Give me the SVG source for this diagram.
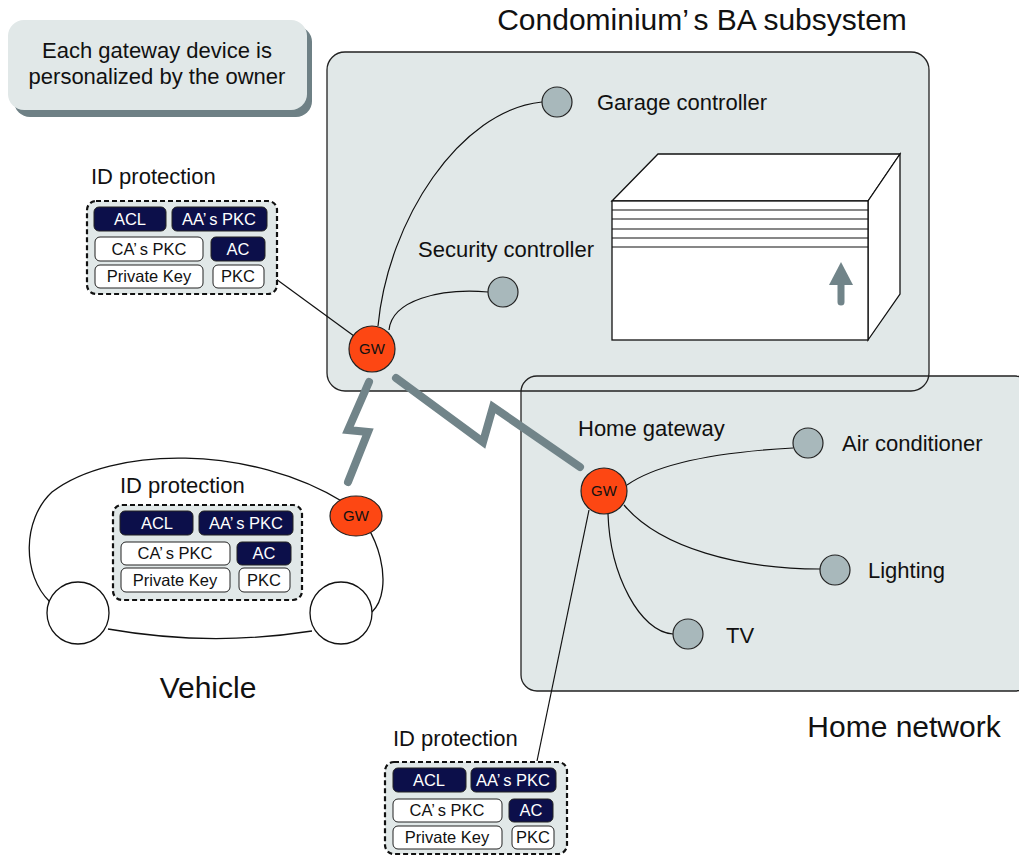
<svg xmlns="http://www.w3.org/2000/svg" width="1019" height="857" viewBox="0 0 1019 857">
  <defs>
    <style>
      text { font-family: "Liberation Sans", Arial, sans-serif; fill: #111; }
      .area { fill: #e1e8e8; stroke: none; }
      .areaLine { fill: none; stroke: #222; stroke-width: 1.3; }
      .big { font-size: 30px; }
      .lbl { font-size: 22px; }
      .gwt { font-size: 15px; text-anchor: middle; }
      .gw { fill: #fd4713; stroke: #222; stroke-width: 1.2; }
      .dev { fill: #a8b8bb; stroke: #222; stroke-width: 1.2; }
      .wire { fill: none; stroke: #111; stroke-width: 1.2; }
      .radio { fill: none; stroke: #718489; stroke-width: 8; stroke-linecap: round; stroke-linejoin: miter; }
      .idbox { fill: #e1e8e8; stroke: #111; stroke-width: 2.2; stroke-dasharray: 5 3; }
      .dark { fill: #0c0f4a; stroke: #222; stroke-width: 1; }
      .light { fill: #fff; stroke: #222; stroke-width: 1; }
      .ct { font-size: 16.5px; text-anchor: middle; }
      .ctw { font-size: 16.5px; text-anchor: middle; fill: #fff; }
      .body { fill: #fff; stroke: #111; stroke-width: 1.3; }
    </style>
  </defs>

  <!-- note box with drop shadow -->
  <g id="note">
    <rect x="14" y="26" width="298" height="91" rx="16" fill="#6e8085"/>
    <rect x="8" y="20" width="299" height="90" rx="16" fill="#e1e8e8"/>
    <text x="157" y="58" font-size="22" text-anchor="middle">Each gateway device is</text>
    <text x="157" y="84" font-size="22" text-anchor="middle">personalized by the owner</text>
  </g>

  <!-- subsystem areas -->
  <g id="areas">
    <rect class="area" x="327" y="52" width="602" height="339" rx="18"/>
    <rect class="area" x="521" y="376" width="510" height="315" rx="16"/>
    <rect class="areaLine" x="327" y="52" width="602" height="339" rx="18"/>
    <rect class="areaLine" x="521" y="376" width="510" height="315" rx="16"/>
    <text class="big" x="702" y="30" text-anchor="middle">Condominium’<tspan dx="5">s BA subsystem</tspan></text>
    <text class="big" x="904" y="737" text-anchor="middle">Home network</text>
  </g>

  <!-- air conditioning unit illustration -->
  <g id="ac-unit">
    <polygon points="612,201 658,154 900,154 868,201" fill="#fff" stroke="#111" stroke-width="1.3"/>
    <polygon points="868,201 900,154 900,294 868,340" fill="#fff" stroke="#111" stroke-width="1.3"/>
    <rect x="612" y="201" width="256" height="139" fill="#fff" stroke="#111" stroke-width="1.3"/>
    <g stroke="#111" stroke-width="1.2">
      <line x1="612" y1="210" x2="868" y2="210"/>
      <line x1="612" y1="219" x2="868" y2="219"/>
      <line x1="612" y1="229" x2="868" y2="229"/>
      <line x1="612" y1="238" x2="868" y2="238"/>
      <line x1="612" y1="247" x2="868" y2="247"/>
    </g>
    <line x1="841" y1="283" x2="841" y2="302" stroke="#718489" stroke-width="7" stroke-linecap="round"/>
    <polygon points="841,262 853,285 829,285" fill="#718489"/>
  </g>

  <!-- vehicle outline -->
  <g id="vehicle">
    <path class="body" d="M50,602 C22,575 22,520 52,492 C112,446 250,444 345,503 C380,526 395,590 372,612"/>
    <path class="body" fill="none" d="M108,629 Q210,647 312,631"/>
    <circle class="body" cx="78" cy="613" r="31"/>
    <circle class="body" cx="341" cy="613" r="31"/>
    <text class="big" x="208" y="698" text-anchor="middle">Vehicle</text>
  </g>

  <!-- connectors -->
  <g id="connectors">
    <path class="wire" d="M378,326 C388,220 460,110 542,102"/>
    <path class="wire" d="M389,330 C392,300 440,288 488,292"/>
    <line class="wire" x1="276" y1="279" x2="354" y2="336"/>
    <path class="wire" d="M627,485 C660,462 720,452 793,448"/>
    <path class="wire" d="M624,505 C660,548 740,569 820,569"/>
    <path class="wire" d="M608,514 C610,575 640,632 673,634"/>
    <line class="wire" x1="589" y1="510" x2="537" y2="761"/>
    <polyline class="radio" points="369,382 348,430 368,432 348,482"/>
    <polyline class="radio" points="396,378 483,442 493,407 580,467"/>
  </g>

  <!-- gateways -->
  <g id="gw-condo">
    <circle class="gw" cx="372" cy="349" r="23"/>
    <text class="gwt" x="372" y="354">GW</text>
  </g>
  <g id="gw-vehicle">
    <ellipse class="gw" cx="356" cy="516" rx="26" ry="20"/>
    <text class="gwt" x="356" y="521">GW</text>
  </g>
  <g id="gw-home">
    <circle class="gw" cx="604" cy="491" r="23"/>
    <text class="gwt" x="604" y="496">GW</text>
    <text class="lbl" x="578" y="436">Home gateway</text>
  </g>

  <!-- devices -->
  <g id="garage">
    <circle class="dev" cx="557" cy="102" r="15"/>
    <text class="lbl" x="597" y="110">Garage controller</text>
  </g>
  <g id="security">
    <circle class="dev" cx="503" cy="292" r="15"/>
    <text class="lbl" x="418" y="257">Security controller</text>
  </g>
  <g id="aircon">
    <circle class="dev" cx="808" cy="443" r="15"/>
    <text class="lbl" x="842" y="451">Air conditioner</text>
  </g>
  <g id="lighting">
    <circle class="dev" cx="835" cy="570" r="15"/>
    <text class="lbl" x="868" y="578">Lighting</text>
  </g>
  <g id="tv">
    <circle class="dev" cx="688" cy="634" r="15"/>
    <text class="lbl" x="726" y="643">TV</text>
  </g>

  <!-- ID protection stores -->
  <g id="id-condo">
    <text class="lbl" x="91" y="184">ID protection</text>
    <rect class="idbox" x="87" y="201" width="190" height="93" rx="9"/>
    <rect class="dark" x="94" y="207" width="72" height="24" rx="5"/>
    <text class="ctw" x="130" y="225">ACL</text>
    <rect class="dark" x="172" y="207" width="95" height="24" rx="5"/>
    <text class="ctw" x="219" y="225">AA’<tspan dx="3">s PKC</tspan></text>
    <rect class="light" x="95" y="237" width="108" height="24" rx="5"/>
    <text class="ct" x="149" y="255">CA’<tspan dx="3">s PKC</tspan></text>
    <rect class="dark" x="211" y="237" width="54" height="24" rx="5"/>
    <text class="ctw" x="238" y="255">AC</text>
    <rect class="light" x="95" y="265" width="108" height="23" rx="5"/>
    <text class="ct" x="149" y="282">Private Key</text>
    <rect class="light" x="213" y="265" width="51" height="23" rx="5"/>
    <text class="ct" x="238" y="282">PKC</text>
  </g>

  <g id="id-vehicle">
    <text class="lbl" x="120" y="493">ID protection</text>
    <rect class="idbox" x="113" y="505" width="189" height="95" rx="9"/>
    <rect class="dark" x="120" y="511" width="73" height="24" rx="5"/>
    <text class="ctw" x="157" y="529">ACL</text>
    <rect class="dark" x="199" y="511" width="94" height="24" rx="5"/>
    <text class="ctw" x="246" y="529">AA’<tspan dx="3">s PKC</tspan></text>
    <rect class="light" x="121" y="542" width="109" height="23" rx="5"/>
    <text class="ct" x="175" y="559">CA’<tspan dx="3">s PKC</tspan></text>
    <rect class="dark" x="237" y="542" width="54" height="23" rx="5"/>
    <text class="ctw" x="264" y="559">AC</text>
    <rect class="light" x="121" y="568" width="109" height="24" rx="5"/>
    <text class="ct" x="175" y="586">Private Key</text>
    <rect class="light" x="239" y="568" width="51" height="24" rx="5"/>
    <text class="ct" x="264" y="586">PKC</text>
  </g>

  <g id="id-home">
    <text class="lbl" x="393" y="746">ID protection</text>
    <rect class="idbox" x="385" y="762" width="182" height="92" rx="9"/>
    <rect class="dark" x="393" y="768" width="73" height="24" rx="5"/>
    <text class="ctw" x="429" y="786">ACL</text>
    <rect class="dark" x="471" y="768" width="85" height="24" rx="5"/>
    <text class="ctw" x="513" y="786">AA’<tspan dx="3">s PKC</tspan></text>
    <rect class="light" x="393" y="799" width="109" height="23" rx="5"/>
    <text class="ct" x="447" y="816">CA’<tspan dx="3">s PKC</tspan></text>
    <rect class="dark" x="509" y="799" width="44" height="23" rx="5"/>
    <text class="ctw" x="531" y="816">AC</text>
    <rect class="light" x="393" y="826" width="109" height="23" rx="5"/>
    <text class="ct" x="447" y="843">Private Key</text>
    <rect class="light" x="512" y="826" width="42" height="23" rx="5"/>
    <text class="ct" x="533" y="843">PKC</text>
  </g>
</svg>
